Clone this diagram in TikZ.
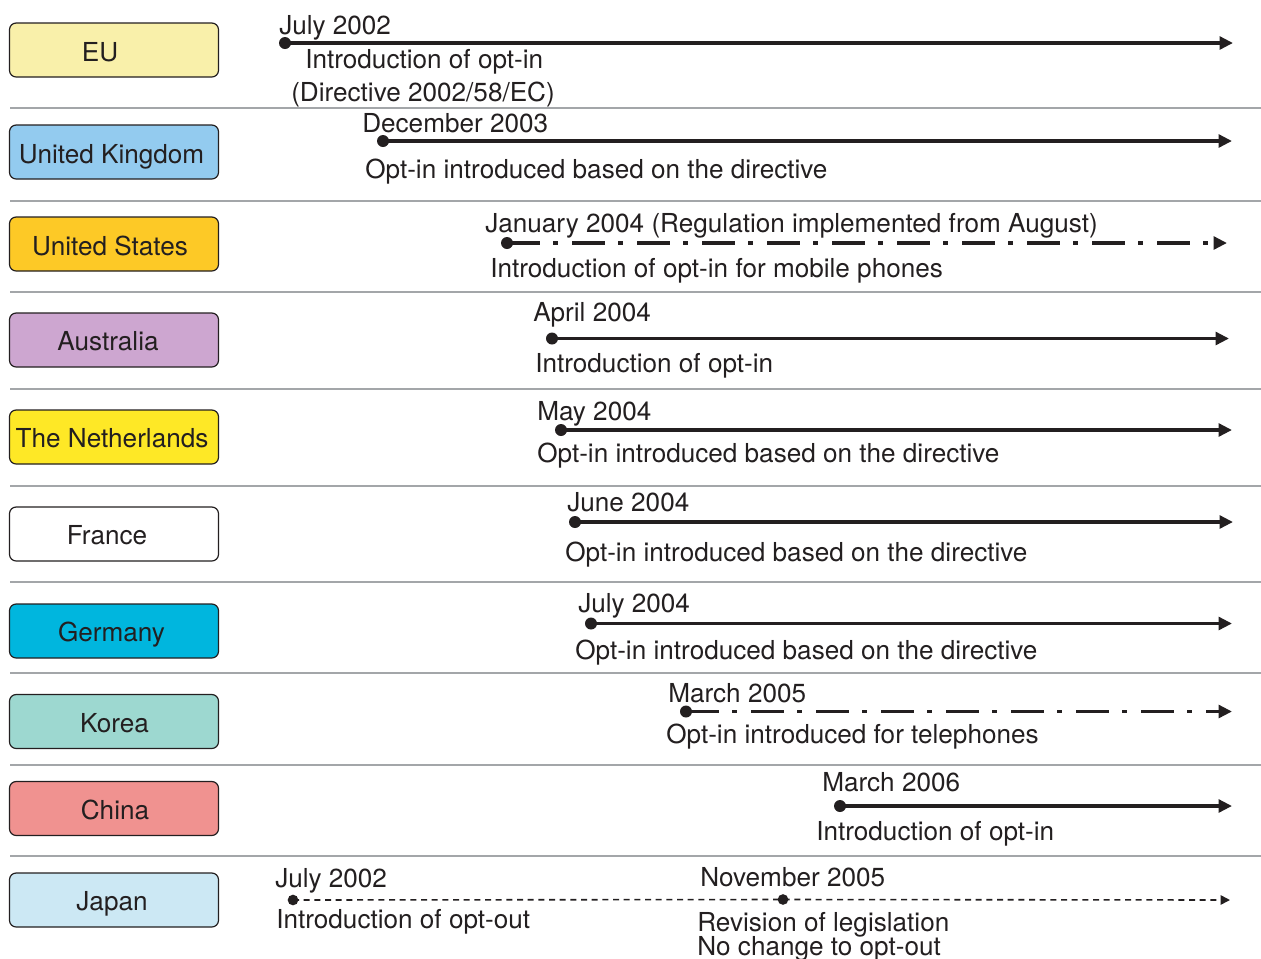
\documentclass[tikz,border=0pt]{standalone}
\usepackage{fontspec}
\setmainfont{TeX Gyre Heros}
\usetikzlibrary{arrows.meta}

\definecolor{ink}{HTML}{231F20}
\definecolor{rulegray}{HTML}{A3A6A9}
\definecolor{cEU}{HTML}{F9F0AA}
\definecolor{cUK}{HTML}{93CBEF}
\definecolor{cUS}{HTML}{FDC926}
\definecolor{cAU}{HTML}{CDA6D0}
\definecolor{cNL}{HTML}{FEE826}
\definecolor{cFR}{HTML}{FFFFFF}
\definecolor{cDE}{HTML}{00B6DE}
\definecolor{cKR}{HTML}{9DD8D0}
\definecolor{cCN}{HTML}{F09290}
\definecolor{cJP}{HTML}{CCE8F4}

\begin{document}
\begin{tikzpicture}[x=0.75pt,y=-0.75pt,
  every node/.style={font=\fontsize{19.6}{23}\selectfont, text=ink},
  cbox/.style={draw=ink, line width=0.9pt, rounded corners=5pt,
    minimum width=156.75pt, minimum height=40.5pt, inner sep=0pt},
  ctext/.style={anchor=base, inner sep=0pt},
  lbl/.style={anchor=base west, inner sep=0pt},
  start/.style={circle, fill=ink, draw=none, inner sep=0pt, minimum size=9pt},
  sepline/.style={draw=rulegray, line width=1.5pt},
  solidline/.style={draw=ink, line width=2.8pt,
    -{Triangle[length=10pt,width=9.5pt]}},
  dashdotline/.style={draw=ink, line width=2.8pt,
    dash pattern=on 24.75pt off 9.75pt on 3.75pt off 10.5pt,
    -{Triangle[length=10pt,width=9.5pt]}},
  thindash/.style={draw=ink, line width=1.2pt,
    dash pattern=on 4.5pt off 3.5pt,
    -{Triangle[length=7pt,width=7pt]}}
]
\useasboundingbox (0,0) rectangle (1261,958);

% separators between the rows
\foreach \yy in {108,200.5,292,388.5,485.5,582,673,765,856}
  \draw[sepline] (10,\yy) -- (1261,\yy);

% ---- EU
\node[cbox, fill=cEU] (euBox) at (114,50) {};
\node[ctext] (euName) at (100,61) {EU};
\node[start] (euS) at (285,43) {};
\coordinate (euE) at (1233,43);
\draw[solidline] (euS.center) -- (euE);
\node[lbl] (euDate) at (279,34) {July 2002};
\node[lbl] (euNoteA) at (305,68) {Introduction of opt-in};
\node[lbl] (euNoteB) at (291,101) {(Directive 2002/58/EC)};

% ---- United Kingdom
\node[cbox, fill=cUK] (ukBox) at (114,152) {};
\node[ctext] (ukName) at (111.5,163) {United Kingdom};
\node[start] (ukS) at (383,141) {};
\coordinate (ukE) at (1232,141);
\draw[solidline] (ukS.center) -- (ukE);
\node[lbl] (ukDate) at (362,132) {December 2003};
\node[lbl] (ukNote) at (365,178) {Opt-in introduced based on the directive};

% ---- United States
\node[cbox, fill=cUS] (usBox) at (114,244) {};
\node[ctext] (usName) at (110,255) {United States};
\node[start] (usS) at (507,243) {};
\coordinate (usE) at (1227,243);
\draw[dashdotline] (usS.center) -- (usE);
\node[lbl] (usDate) at (485,232) {January 2004 (Regulation implemented from August)};
\node[lbl] (usNote) at (490,277) {Introduction of opt-in for mobile phones};

% ---- Australia
\node[cbox, fill=cAU] (auBox) at (114,340) {};
\node[ctext] (auName) at (108,350) {Australia};
\node[start] (auS) at (552,338.5) {};
\coordinate (auE) at (1229,338.5);
\draw[solidline] (auS.center) -- (auE);
\node[lbl] (auDate) at (533,321) {April 2004};
\node[lbl] (auNote) at (535,372) {Introduction of opt-in};

% ---- The Netherlands
\node[cbox, fill=cNL] (nlBox) at (114,437) {};
\node[ctext] (nlName) at (112,447) {The Netherlands};
\node[start] (nlS) at (561,430) {};
\coordinate (nlE) at (1232,430);
\draw[solidline] (nlS.center) -- (nlE);
\node[lbl] (nlDate) at (537,420) {May 2004};
\node[lbl] (nlNote) at (537,462) {Opt-in introduced based on the directive};

% ---- France
\node[cbox, fill=cFR] (frBox) at (114,534) {};
\node[ctext] (frName) at (107,544) {France};
\node[start] (frS) at (575,522) {};
\coordinate (frE) at (1233,522);
\draw[solidline] (frS.center) -- (frE);
\node[lbl] (frDate) at (567,511) {June 2004};
\node[lbl] (frNote) at (565,561) {Opt-in introduced based on the directive};

% ---- Germany
\node[cbox, fill=cDE] (deBox) at (114,631) {};
\node[ctext] (deName) at (111.5,641) {Germany};
\node[start] (deS) at (591,623.5) {};
\coordinate (deE) at (1232,623.5);
\draw[solidline] (deS.center) -- (deE);
\node[lbl] (deDate) at (578,612) {July 2004};
\node[lbl] (deNote) at (575,659) {Opt-in introduced based on the directive};

% ---- Korea
\node[cbox, fill=cKR] (krBox) at (114,721.5) {};
\node[ctext] (krName) at (114.5,732) {Korea};
\node[start] (krS) at (686,711.5) {};
\coordinate (krE) at (1232,711.5);
\draw[dashdotline] (krS.center) -- (krE);
\node[lbl] (krDate) at (668,702) {March 2005};
\node[lbl] (krNote) at (666,743) {Opt-in introduced for telephones};

% ---- China
\node[cbox, fill=cCN] (cnBox) at (114,808.5) {};
\node[ctext] (cnName) at (115,819) {China};
\node[start] (cnS) at (840,806) {};
\coordinate (cnE) at (1232,806);
\draw[solidline] (cnS.center) -- (cnE);
\node[lbl] (cnDate) at (822,791) {March 2006};
\node[lbl] (cnNote) at (816,840) {Introduction of opt-in};

% ---- Japan
\node[cbox, fill=cJP] (jpBox) at (114,900) {};
\node[ctext] (jpName) at (112,910) {Japan};
\node[start, minimum size=8pt] (jpS) at (293,900) {};
\node[start, minimum size=8pt] (jpM) at (783,899.5) {};
\coordinate (jpE) at (1230,900);
\draw[thindash] (jpS.center) -- (jpM.center) -- (jpE);
\node[lbl] (jpDateA) at (275,887) {July 2002};
\node[lbl] (jpNoteA) at (276,928) {Introduction of opt-out};
\node[lbl] (jpDateB) at (700,886) {November 2005};
\node[lbl] (jpNoteB) at (697,931) {Revision of legislation};
\node[lbl] (jpNoteC) at (697,955) {No change to opt-out};
\end{tikzpicture}
\end{document}
